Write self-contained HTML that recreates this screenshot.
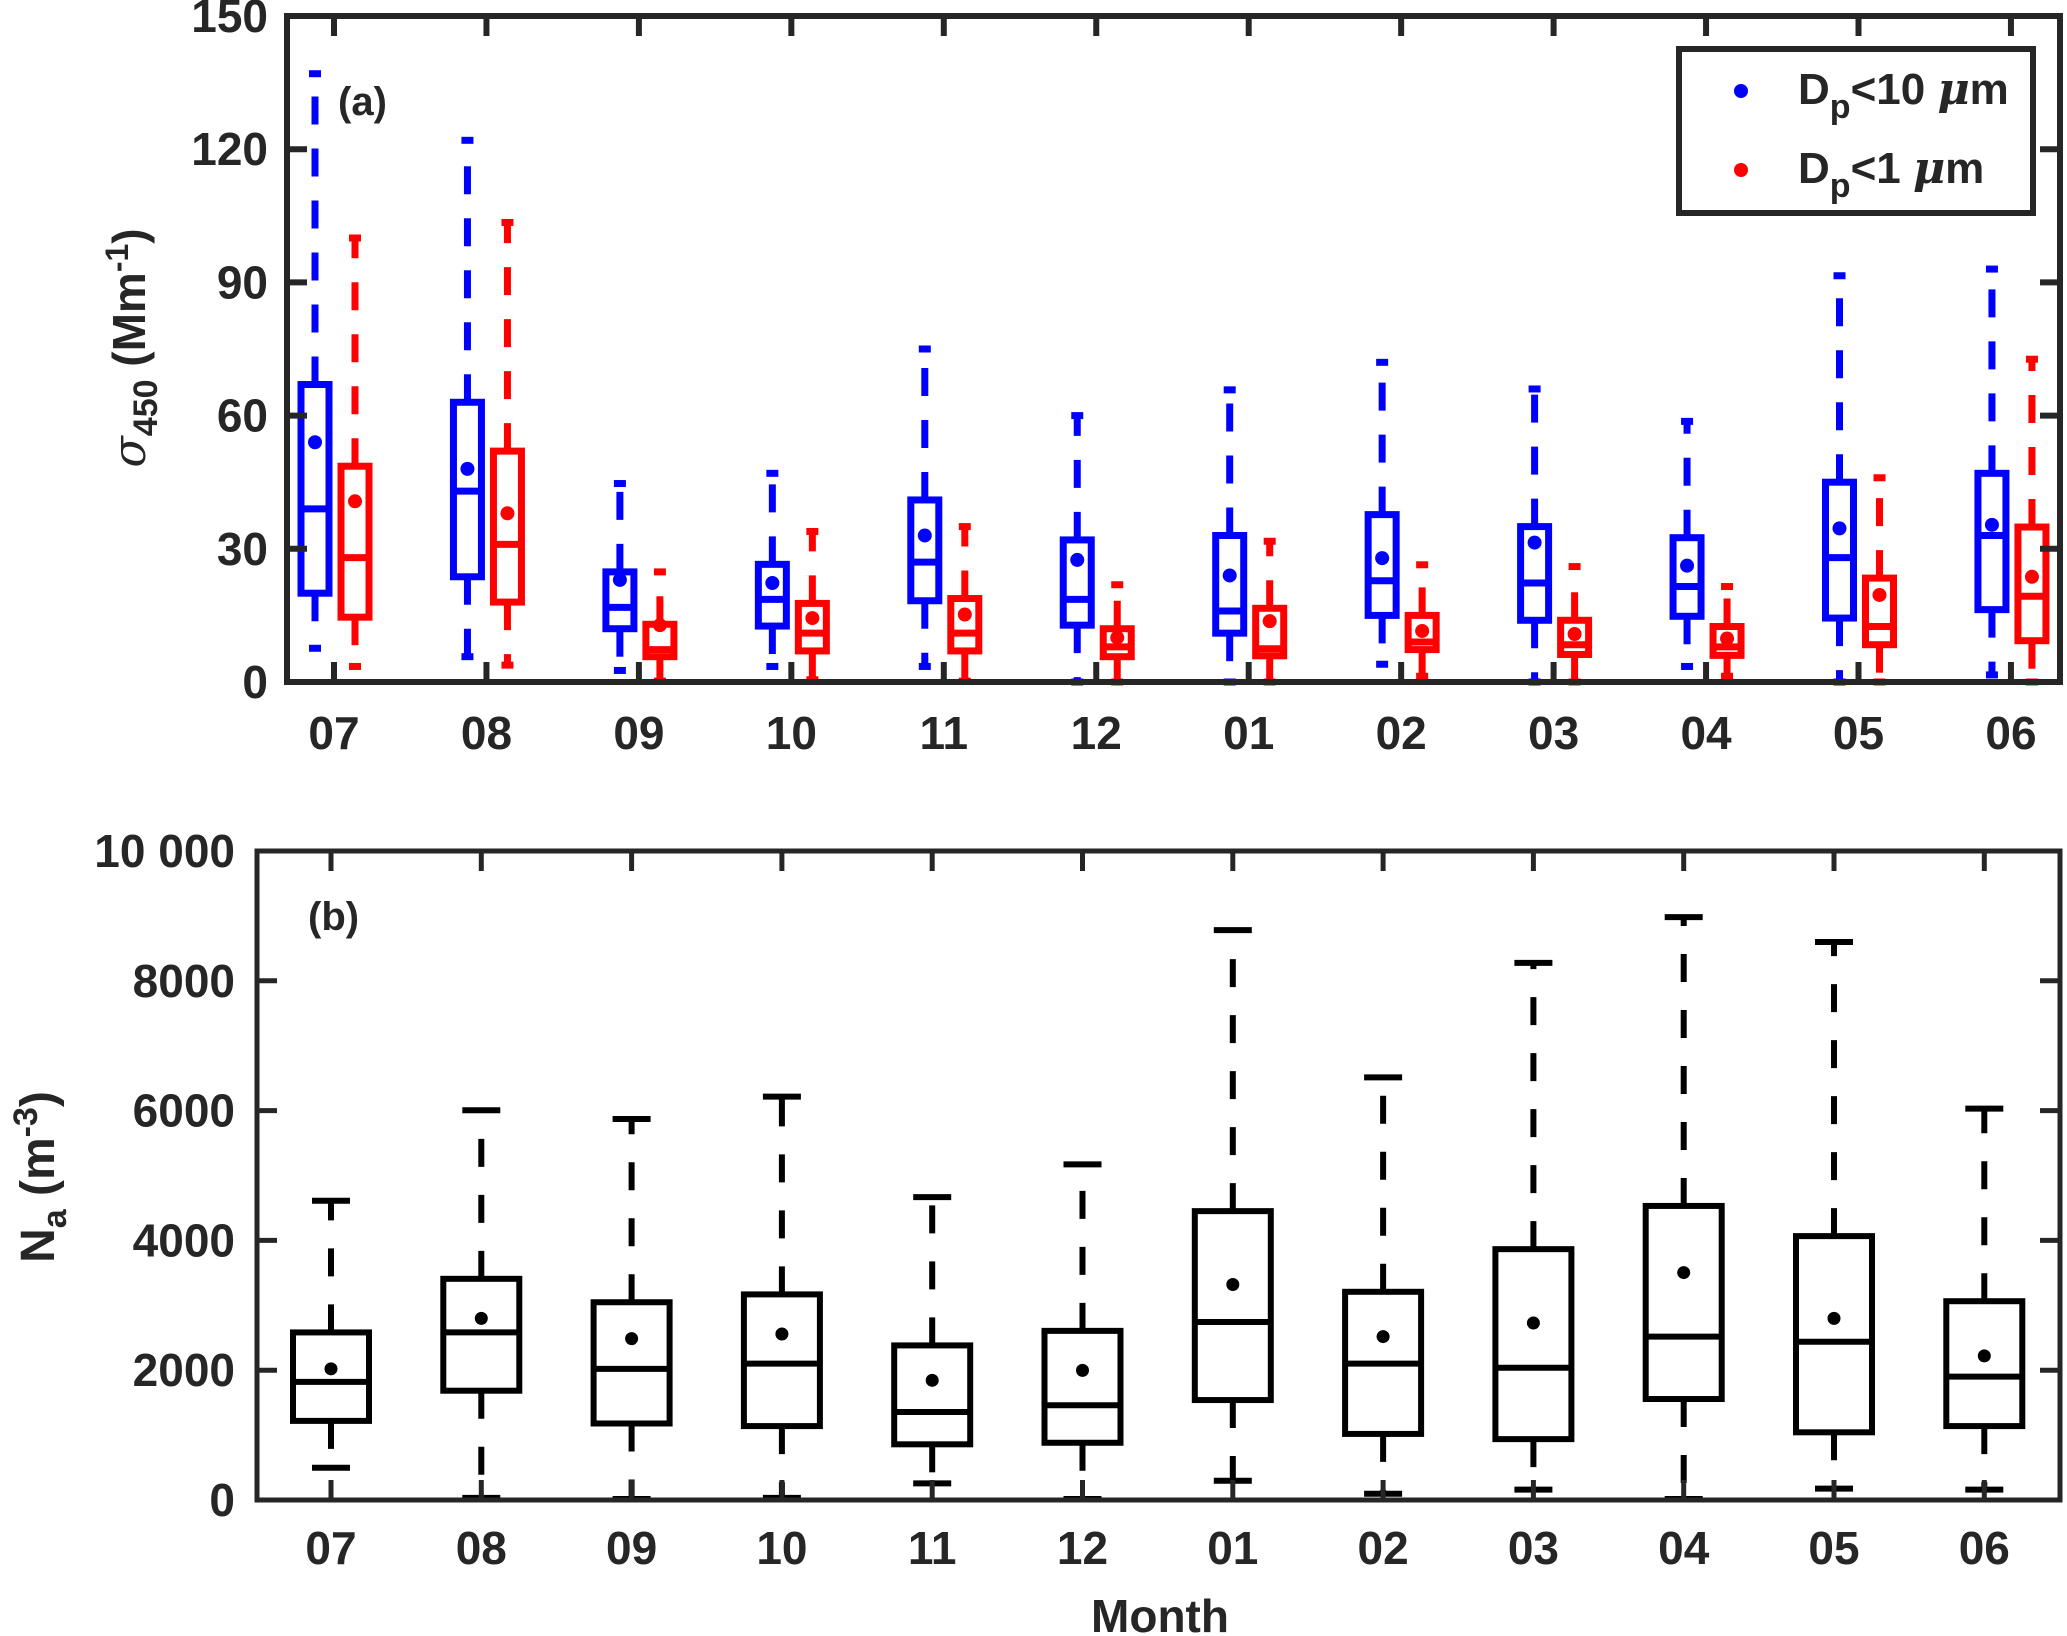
<!DOCTYPE html>
<html><head><meta charset="utf-8"><style>
body{margin:0;background:#fff}
svg{display:block}
text{font-family:"Liberation Sans",Arial,sans-serif;font-weight:bold;fill:#262626}
</style></head><body>
<svg id="chart" width="2067" height="1636" viewBox="0 0 2067 1636" xmlns="http://www.w3.org/2000/svg">
<g id="pa"></g>
<g id="pb"></g>
<text x="338" y="115" font-size="40" fill="#000">(a)</text>
<text x="308" y="930" font-size="40" fill="#000">(b)</text>
<text transform="translate(145,348) rotate(-90)" text-anchor="middle" font-size="46"><tspan font-style="italic" font-family="DejaVu Serif" font-weight="normal">σ</tspan><tspan font-size="34" dy="12">450</tspan><tspan dy="-12"> (Mm</tspan><tspan font-size="32" dy="-17">-1</tspan><tspan dy="17">)</tspan></text>
<text transform="translate(54,1177) rotate(-90)" text-anchor="middle" font-size="48">N<tspan font-size="34" dy="12">a</tspan><tspan dy="-12"> (m</tspan><tspan font-size="34" dy="-17">-3</tspan><tspan dy="17">)</tspan></text>
<text x="1160" y="1632" text-anchor="middle" font-size="46">Month</text>
<g>
<rect x="1679" y="49" width="354" height="164" fill="#fff" stroke="#262626" stroke-width="6"/>
<circle cx="1741" cy="91" r="7" fill="#0000ff"/>
<circle cx="1741" cy="170" r="7" fill="#ff0000"/>
<text x="1798" y="104" font-size="44" fill="#000">D<tspan font-size="34" dy="14">p</tspan><tspan dy="-14">&lt;10 </tspan><tspan font-style="italic" font-family="DejaVu Serif">μ</tspan>m</text>
<text x="1798" y="183" font-size="44" fill="#000">D<tspan font-size="34" dy="14">p</tspan><tspan dy="-14">&lt;1 </tspan><tspan font-style="italic" font-family="DejaVu Serif">μ</tspan>m</text>
</g>
</svg>
<script>
const months=["07","08","09","10","11","12","01","02","03","04","05","06"];
const pm10Low=[7.6,5.7,2.6,3.5,3.5,0,0,4,0,3.5,0,1.6];
const pm10Q1=[20,23.7,12,12.6,18.3,12.8,11,15,13.9,14.8,14.4,16.3];
const pm10Med=[39,43,16.8,18.6,27,18.6,16,22.8,22.3,21.5,28,33];
const pm10Q3=[67,63,24.8,26.5,41,32,33,37.7,35,32.5,45,47];
const pm10High=[137,122,44.7,47,75,60,65.8,72,66,58.7,91.5,93];
const pm10Mean=[54,48,23,22.3,33,27.5,24,27.9,31.4,26.2,34.6,35.4];
const pm1Low=[3.5,3.8,0.2,0.5,0.2,0,0,1.3,0,1.3,0,0];
const pm1Q1=[14.6,18,5.7,7,7,5.7,5.9,7.3,6.2,6,8.4,9.3];
const pm1Med=[28,31,7.3,11,11,7.9,7.5,9,8.4,7.9,12.5,19.3];
const pm1Q3=[48.6,52,13,17.7,18.8,12,16.6,15,13.9,12.5,23.4,34.9];
const pm1High=[100,103.5,24.8,33.9,35,21.9,31.7,26.4,26,21.5,46,72.7];
const pm1Mean=[40.7,38,12.8,14.4,15.2,10,13.7,11.5,10.8,9.8,19.6,23.7];
const aTicks=[0,30,60,90,120,150];
const naLow=[497,32,16,32,257,16,297,96,160,16,176,160];
const naQ1=[1219,1684,1179,1139,858,882,1540,1018,938,1556,1043,1139];
const naMed=[1820,2582,2021,2101,1355,1459,2743,2101,2037,2518,2438,1901];
const naQ3=[2582,3408,3047,3168,2382,2606,4451,3208,3865,4531,4066,3063];
const naHigh=[4611,6006,5870,6215,4667,5172,8781,6512,8276,8982,8597,6030];
const naMean=[2021,2799,2486,2558,1844,1997,3320,2518,2727,3504,2799,2221];
const bTicks=[0,2000,4000,6000,8000,10000];
const bTickLabels=["0","2000","4000","6000","8000","10 000"];

const NS="http://www.w3.org/2000/svg";
function mk(p,tag,at){const e=document.createElementNS(NS,tag);for(const k in at)e.setAttribute(k,at[k]);p.appendChild(e);return e;}
const A={l:287,r:2060,t:16,b:682};
const xa=i=>334+i*152.45, ya=v=>A.b-(v/150)*(A.b-A.t);
const B={l:257,r:2060,t:851,b:1500};
const xb=i=>331+i*150.3, yb=v=>B.b-(v/10000)*(B.b-B.t);

function box(g,cx,hw,cap,y,lo,q1,md,q3,hi,mn,col,lw,r,dash){
  const w=mk(g,'line',{x1:cx,x2:cx,y1:y(q3),y2:y(hi),stroke:col,'stroke-width':lw,'stroke-dasharray':dash});
  
  const w2=mk(g,'line',{x1:cx,x2:cx,y1:y(q1),y2:y(lo),stroke:col,'stroke-width':lw,'stroke-dasharray':dash});
  
  const c1=mk(g,'line',{x1:cx-cap,x2:cx+cap,y1:y(hi),y2:y(hi),stroke:col,'stroke-width':lw});
  
  const c2=mk(g,'line',{x1:cx-cap,x2:cx+cap,y1:y(lo),y2:y(lo),stroke:col,'stroke-width':lw});
  
  const rc=mk(g,'rect',{x:cx-hw,y:y(q3),width:2*hw,height:y(q1)-y(q3),fill:'none',stroke:col,'stroke-width':lw});
  
  const m=mk(g,'line',{x1:cx-hw,x2:cx+hw,y1:y(md),y2:y(md),stroke:col,'stroke-width':lw});
  
  const d=mk(g,'circle',{cx:cx,cy:y(mn),r:r,fill:col});
  
}
function axes(g,P,xf,yf,ticks,labels,lw,fs,lblRight,xlblY){
  const fr=mk(g,'rect',{x:P.l,y:P.t,width:P.r-P.l,height:P.b-P.t,fill:'none',stroke:'#262626','stroke-width':lw});
  
  ticks.forEach((v,k)=>{
    const y=yf(v);
    const t1=mk(g,'line',{x1:P.l,x2:P.l+20,y1:y,y2:y,stroke:'#262626','stroke-width':lw});
    
    const t2=mk(g,'line',{x1:P.r,x2:P.r-20,y1:y,y2:y,stroke:'#262626','stroke-width':lw});
    
    const t=mk(g,'text',{x:lblRight,y:y+16,'text-anchor':'end','font-size':fs});
    
    t.textContent=labels[k];
  });
  months.forEach((m,i)=>{
    const x=xf(i);
    const t1=mk(g,'line',{x1:x,x2:x,y1:P.b,y2:P.b-20,stroke:'#262626','stroke-width':lw});
    
    const t2=mk(g,'line',{x1:x,x2:x,y1:P.t,y2:P.t+20,stroke:'#262626','stroke-width':lw});
    
    const t=mk(g,'text',{x:x,y:xlblY,'text-anchor':'middle','font-size':46});
    
    t.textContent=m;
  });
}
const pa=document.getElementById('pa'), pb=document.getElementById('pb');
months.forEach((m,i)=>{
  box(pa,xa(i)-19,14,6,ya,pm10Low[i],pm10Q1[i],pm10Med[i],pm10Q3[i],pm10High[i],pm10Mean[i],'#0000ff',7,7,'28 24');
  box(pa,xa(i)+21,14,6,ya,pm1Low[i],pm1Q1[i],pm1Med[i],pm1Q3[i],pm1High[i],pm1Mean[i],'#ff0000',7,7,'28 24');
  box(pb,xb(i),38,19,yb,naLow[i],naQ1[i],naMed[i],naQ3[i],naHigh[i],naMean[i],'#000',6,6.5,'28 28');
});
axes(pa,A,xa,ya,aTicks,aTicks.map(String),6,46,268,749);
axes(pb,B,xb,yb,bTicks,bTickLabels,5,46,235,1564);
</script>
</body></html>
